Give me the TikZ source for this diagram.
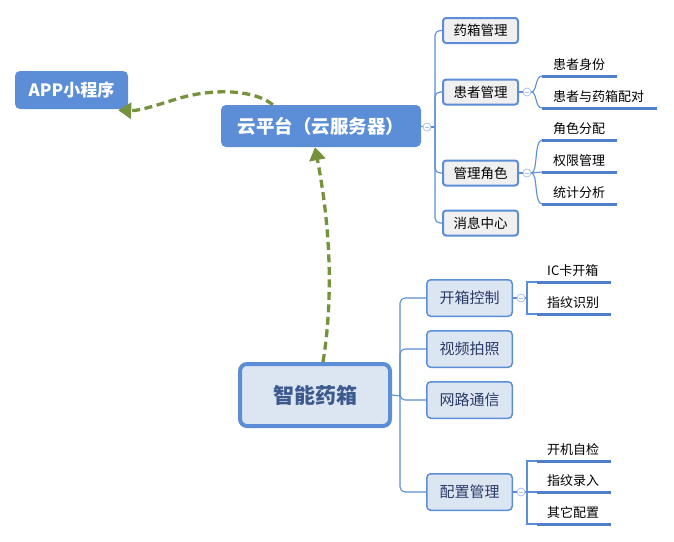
\documentclass[tikz,border=0pt]{standalone}
\usepackage{fontspec}
\setmainfont{Noto Sans CJK SC}
\usetikzlibrary{arrows.meta}
\definecolor{bl}{HTML}{5B8ED6}
\definecolor{ln}{HTML}{5B8ED6}
\definecolor{ul}{HTML}{4F7FC9}
\definecolor{gr}{HTML}{76923C}
\definecolor{lg}{HTML}{F0F0F0}
\definecolor{lb}{HTML}{DCE6F2}
\definecolor{navy}{HTML}{2B3A67}
\definecolor{sm}{HTML}{3C5A8E}
\definecolor{cc}{HTML}{A9C4EB}
\tikzset{
  mainbox/.style={draw=none, fill=bl, rounded corners=5pt, text=white, font=\bfseries\fontsize{17}{20}\selectfont, inner sep=0},
  topbox/.style={draw=bl, line width=2pt, fill=lg, rounded corners=3pt, minimum width=75pt, minimum height=25pt, inner sep=0, font=\fontsize{13.5}{15}\selectfont},
  lowbox/.style={draw=bl, line width=1.5pt, fill=lb, rounded corners=4pt, minimum width=85.5pt, minimum height=36.5pt, inner sep=0, text=navy, font=\fontsize{15}{17}\selectfont},
  conn/.style={draw=ln, line width=1.1pt},
  uline/.style={draw=ul, line width=3pt},
  subtxt/.style={anchor=base west, inner sep=0, font=\fontsize{13}{15}\selectfont},
  circ/.style={circle, draw=cc, fill=white, line width=0.8pt, minimum size=8pt, inner sep=0,
    path picture={\draw[cc, line width=0.8pt] ([xshift=-2.4pt]path picture bounding box.center) -- ([xshift=2.4pt]path picture bounding box.center);}},
  gdash/.style={draw=gr, line width=3.3pt, dash pattern=on 8pt off 4.5pt, -{Triangle[length=13pt,width=16pt]}}
}
\begin{document}
\begin{tikzpicture}[x=1pt,y=-1pt]
\useasboundingbox (0,0) rectangle (674,541);
% main nodes
\node[mainbox, minimum width=113pt, minimum height=38pt] (app) at (71.5,90) {APP小程序};
\node[mainbox, minimum width=200pt, minimum height=42pt, font=\bfseries\fontsize{18.5}{21}\selectfont] (cloud) at (321,126) {云平台（云服务器）};
\node[draw=bl, line width=4pt, fill=lb, rounded corners=7pt, minimum width=150pt, minimum height=62pt, inner sep=0, text=sm, font=\bfseries\fontsize{21}{24}\selectfont] (smart) at (315,395) {智能药箱};

% top group
\node[topbox] (t1) at (480.5,30.5) {药箱管理};
\node[topbox] (t2) at (480.5,92) {患者管理};
\node[topbox] (t3) at (480.5,173) {管理角色};
\node[topbox] (t4) at (480.5,223) {消息中心};
\node[circ] (c0) at (427,127) {};
\coordinate (tj) at (435,127);
\draw[conn] (cloud.east) -- (c0.west);
\draw[conn] (c0.east) -- (tj);
\foreach \b in {t1,t2,t3,t4} \draw[conn, rounded corners=5pt] (tj) |- (\b.west);

% patient subs
\node[circ] (c2) at (527,92) {};
\draw[conn] (t2.east) -- (c2.west);
\coordinate (p1) at (542,76);
\coordinate (p2) at (542,108);
\draw[uline] (p1) -- ++(75,0);
\draw[uline] (p2) -- ++(115,0);
\draw[conn] (c2.east) .. controls (537,92) and (535,76) .. (p1);
\draw[conn] (c2.east) .. controls (537,92) and (535,108) .. (p2);
\node[subtxt] at (553,69) {患者身份};
\node[subtxt] at (553,101) {患者与药箱配对};

% role subs
\node[circ] (c3) at (527,173) {};
\draw[conn] (t3.east) -- (c3.west);
\coordinate (r1) at (542,140);
\coordinate (r2) at (542,172);
\coordinate (r3) at (542,204);
\draw[uline] (r1) -- ++(75,0);
\draw[uline] (r2) -- ++(75,0);
\draw[uline] (r3) -- ++(75,0);
\draw[conn] (c3.east) .. controls (538,173) and (534,140) .. (r1);
\draw[conn] (c3.east) -- (r2);
\draw[conn] (c3.east) .. controls (538,173) and (534,204) .. (r3);
\node[subtxt] at (553,133) {角色分配};
\node[subtxt] at (553,165) {权限管理};
\node[subtxt] at (553,197) {统计分析};

% lower group
\node[lowbox] (l1) at (469.5,298) {开箱控制};
\node[lowbox] (l2) at (469.5,349) {视频拍照};
\node[lowbox] (l3) at (469.5,400) {网路通信};
\node[lowbox] (l4) at (469.5,492) {配置管理};
\coordinate (lj) at (400,396);
\draw[conn] (smart.east) -- (lj);
\foreach \b in {l1,l2,l3,l4} \draw[conn, rounded corners=5pt] (lj) |- (\b.west);

% open-box subs
\node[circ] (c4) at (521,298) {};
\draw[conn] (l1.east) -- (c4.west);
\coordinate (o1) at (537,282);
\coordinate (o2) at (537,314);
\draw[uline] (o1) -- ++(74,0);
\draw[uline] (o2) -- ++(74,0);
\draw[conn] (c4.east) -- (527,298) |- (o1);
\draw[conn] (527,298) |- (o2);
\node[subtxt] at (547,275) {IC卡开箱};
\node[subtxt] at (547,307) {指纹识别};

% config subs
\node[circ] (c5) at (521,492) {};
\draw[conn] (l4.east) -- (c5.west);
\coordinate (k1) at (537,461);
\coordinate (k2) at (537,492);
\coordinate (k3) at (537,524);
\draw[uline] (k1) -- ++(74,0);
\draw[uline] (k2) -- ++(74,0);
\draw[uline] (k3) -- ++(74,0);
\draw[conn] (c5.east) -- (527,492) |- (k1);
\draw[conn] (527,492) |- (k3);
\draw[conn] (527,492) -- (k2);
\node[subtxt] at (547,454) {开机自检};
\node[subtxt] at (547,485) {指纹录入};
\node[subtxt] at (547,517) {其它配置};

% green dashed arrows
\draw[gdash] ([xshift=52pt]cloud.north west) .. controls (255,90) and (215,88) .. (180,98) .. controls (160,104) and (140,111) .. ([shift={(-10,1)}]app.south east);
\draw[gdash] ([xshift=8pt]smart.north) .. controls (333,300) and (331,230) .. ([xshift=-6pt]cloud.south);
\end{tikzpicture}
\end{document}
